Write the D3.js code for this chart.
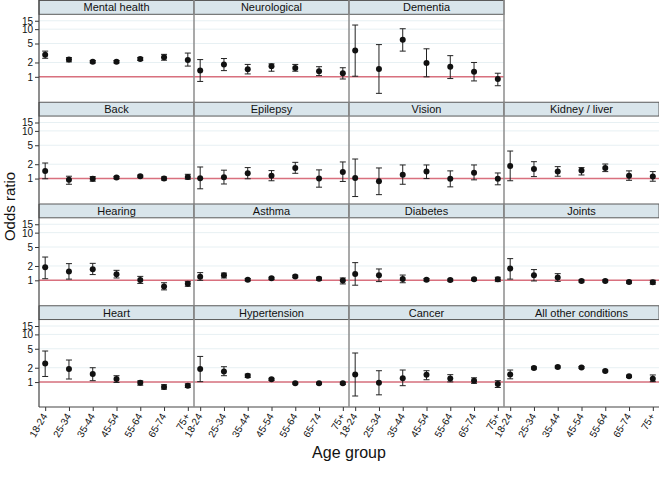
<!DOCTYPE html>
<html>
<head>
<meta charset="utf-8">
<script src="https://cdn.jsdelivr.net/npm/d3@7/dist/d3.min.js"></script>
<style>
  body { margin: 0; background: #fff; }
  svg { display: block; font-family: "Liberation Sans", Arial, sans-serif; }
</style>
</head>
<body>
<svg id="chart" width="659" height="479"></svg>
<script>
const ageGroups = ["18-24", "25-34", "35-44", "45-54", "55-64", "65-74", "75+"];
const conditions = ["Mental health", "Neurological", "Dementia",
  "Back", "Epilepsy", "Vision", "Kidney / liver",
  "Hearing", "Asthma", "Diabetes", "Joints",
  "Heart", "Hypertension", "Cancer", "All other conditions"];
const yTicks = [1, 2, 5, 10, 15];

const oddsRatio = [
  [2.92, 2.30, 2.06, 2.06, 2.37, 2.57, 2.26],
  [1.35, 1.82, 1.44, 1.66, 1.53, 1.31, 1.19],
  [3.57, 1.46, 6.00, 1.96, 1.63, 1.28, 0.90],
  [1.45, 0.94, 0.99, 1.05, 1.12, 1.00, 1.08],
  [1.01, 1.07, 1.29, 1.14, 1.67, 1.00, 1.38],
  [1.03, 0.88, 1.21, 1.40, 0.99, 1.33, 0.99],
  [1.84, 1.59, 1.40, 1.47, 1.67, 1.14, 1.10],
  [1.87, 1.54, 1.70, 1.34, 1.01, 0.74, 0.85],
  [1.19, 1.27, 1.03, 1.10, 1.21, 1.08, 0.99],
  [1.36, 1.27, 1.06, 1.03, 1.01, 1.05, 1.05],
  [1.76, 1.27, 1.14, 0.97, 0.97, 0.92, 0.91],
  [2.46, 1.88, 1.47, 1.16, 0.97, 0.79, 0.84],
  [1.88, 1.67, 1.36, 1.14, 0.95, 0.94, 0.94],
  [1.45, 0.97, 1.21, 1.43, 1.19, 1.07, 0.91],
  [1.45, 1.98, 2.07, 2.03, 1.71, 1.32, 1.17]
];
const ciLower = [
  [2.45, 2.06, 1.95, 1.95, 2.20, 2.23, 1.68],
  [0.80, 1.35, 1.15, 1.31, 1.31, 1.06, 0.90],
  [1.03, 0.45, 3.46, 1.00, 0.92, 0.82, 0.65],
  [0.99, 0.76, 0.88, 0.99, 1.06, 0.93, 0.97],
  [0.61, 0.77, 0.99, 0.90, 1.29, 0.66, 0.87],
  [0.42, 0.46, 0.76, 1.00, 0.67, 0.94, 0.74],
  [0.90, 1.10, 1.12, 1.19, 1.40, 0.92, 0.88],
  [1.08, 1.06, 1.32, 1.12, 0.86, 0.63, 0.75],
  [1.00, 1.12, 0.97, 1.04, 1.14, 1.00, 0.84],
  [0.79, 0.94, 0.89, 0.97, 0.96, 0.99, 0.94],
  [1.06, 0.97, 0.95, 0.92, 0.93, 0.87, 0.83],
  [1.31, 1.16, 1.07, 0.98, 0.86, 0.71, 0.77],
  [1.02, 1.36, 1.25, 1.08, 0.91, 0.90, 0.89],
  [0.51, 0.54, 0.84, 1.12, 1.01, 0.94, 0.77],
  [1.17, 1.88, 1.98, 1.95, 1.64, 1.25, 1.02]
];
const ciUpper = [
  [3.46, 2.53, 2.20, 2.20, 2.55, 2.96, 3.15],
  [2.30, 2.42, 1.82, 1.87, 1.82, 1.63, 1.55],
  [12.2, 4.74, 10.2, 3.87, 2.78, 2.00, 1.19],
  [2.12, 1.12, 1.10, 1.11, 1.18, 1.08, 1.23],
  [1.75, 1.50, 1.70, 1.47, 2.19, 1.52, 2.23],
  [2.57, 1.67, 1.93, 1.93, 1.45, 1.93, 1.31],
  [3.78, 2.26, 1.78, 1.70, 2.02, 1.45, 1.40],
  [3.08, 2.24, 2.27, 1.62, 1.21, 0.89, 0.95],
  [1.45, 1.42, 1.09, 1.16, 1.28, 1.16, 1.12],
  [2.35, 1.73, 1.29, 1.09, 1.06, 1.11, 1.16],
  [2.85, 1.68, 1.38, 1.02, 1.02, 0.97, 1.00],
  [4.48, 2.90, 2.00, 1.36, 1.06, 0.88, 0.92],
  [3.45, 2.10, 1.47, 1.20, 0.99, 0.98, 0.99],
  [4.07, 1.73, 1.79, 1.73, 1.43, 1.23, 1.07],
  [1.79, 2.08, 2.17, 2.12, 1.78, 1.39, 1.41]
];

// layout
const left = 39, colW = 155, rowH = 101.75, stripH = 14.8;
const plotH = rowH - stripH;
const nCols = 4, nRows = 4;

const svg = d3.select("#chart");
const x = d3.scalePoint().domain(ageGroups).range([0, colW]).padding(0.26);
const y = d3.scaleLog().domain([0.3, 20]).range([plotH, 0]);

const stripFill = "#d9e5eb", stripStroke = "#5a5a5a", sepColor = "#8c8c8c";
const gridColor = "#e7f0f3", refColor = "#d9707e", markColor = "#111";

conditions.forEach((name, i) => {
  const slot = i < 3 ? i : i + 1;
  const col = slot % nCols, row = Math.floor(slot / nCols);
  const gx = left + col * colW, gy = row * rowH;
  const g = svg.append("g").attr("transform", `translate(${gx},${gy})`);

  // strip
  g.append("rect").attr("x", 0).attr("y", 0.5).attr("width", colW).attr("height", stripH - 1)
    .attr("fill", stripFill).attr("stroke", stripStroke).attr("stroke-width", 1);
  g.append("text").attr("x", colW / 2).attr("y", stripH / 2 + 4)
    .attr("text-anchor", "middle").attr("font-size", 11).attr("fill", "#111").text(name);

  const p = g.append("g").attr("transform", `translate(0,${stripH})`);
  // grid
  p.selectAll("line.grid").data(yTicks).join("line").attr("class", "grid")
    .attr("x1", 0).attr("x2", colW).attr("y1", d => y(d)).attr("y2", d => y(d))
    .attr("stroke", gridColor).attr("stroke-width", 1);
  // reference line
  p.append("line").attr("x1", 0).attr("x2", colW).attr("y1", y(1)).attr("y2", y(1))
    .attr("stroke", refColor).attr("stroke-width", 1.6);

  const rows = ageGroups.map((a, k) => ({ a, or: oddsRatio[i][k], lo: ciLower[i][k], hi: ciUpper[i][k] }));
  const eb = p.selectAll("g.eb").data(rows).join("g").attr("class", "eb")
    .attr("transform", d => `translate(${x(d.a)},0)`);
  eb.append("line").attr("y1", d => y(d.lo)).attr("y2", d => y(d.hi)).attr("stroke", "#222").attr("stroke-width", 1);
  eb.append("line").attr("x1", -3).attr("x2", 3).attr("y1", d => y(d.lo)).attr("y2", d => y(d.lo)).attr("stroke", "#222").attr("stroke-width", 1);
  eb.append("line").attr("x1", -3).attr("x2", 3).attr("y1", d => y(d.hi)).attr("y2", d => y(d.hi)).attr("stroke", "#222").attr("stroke-width", 1);
  eb.append("circle").attr("cy", d => y(d.or)).attr("r", 3).attr("fill", markColor);

  // y axis for first column
  if (col === 0) {
    const ax = p.append("g").call(d3.axisLeft(y).tickValues(yTicks).tickFormat(d3.format("d")).tickSize(4).tickSizeOuter(0));
    ax.select(".domain").remove();
    ax.selectAll("text").attr("font-size", 10).attr("fill", "#111").attr("dx", 1).attr("dy", "0.34em")
      .style("font-family", "'Liberation Sans', Arial, sans-serif");
    ax.selectAll("line").attr("stroke", "#333");
  }
  // x axis for bottom row
  if (row === nRows - 1) {
    const ax = p.append("g").attr("transform", `translate(0,${plotH})`)
      .call(d3.axisBottom(x).tickSize(4).tickSizeOuter(0));
    ax.select(".domain").remove();
    ax.selectAll("line").attr("stroke", "#333");
    ax.selectAll("text").attr("font-size", 10).attr("fill", "#111")
      .attr("text-anchor", "end").attr("dy", 0).attr("y", 0)
      .attr("transform", "translate(2,9) rotate(-60)")
      .style("font-family", "'Liberation Sans', Arial, sans-serif");
    p.append("line").attr("x1", 0).attr("x2", colW).attr("y1", plotH).attr("y2", plotH)
      .attr("stroke", "#444").attr("stroke-width", 1.2);
  }
  // left separator
  g.append("line").attr("x1", 0).attr("x2", 0).attr("y1", 0).attr("y2", rowH)
    .attr("stroke", col === 0 ? "#444" : sepColor).attr("stroke-width", col === 0 ? 1.2 : 1.5);
  if (col === 2 && row === 0) {
    g.append("line").attr("x1", colW).attr("x2", colW).attr("y1", 0).attr("y2", rowH)
      .attr("stroke", sepColor).attr("stroke-width", 1.5);
  }
});

svg.append("text").attr("transform", `translate(15,${rowH * 2 + 3}) rotate(-90)`)
  .attr("text-anchor", "middle").attr("font-size", 15).attr("fill", "#111").text("Odds ratio");
svg.append("text").attr("x", left + colW * 2).attr("y", 458)
  .attr("text-anchor", "middle").attr("font-size", 16).attr("fill", "#111").text("Age group");
</script>
</body>
</html>
